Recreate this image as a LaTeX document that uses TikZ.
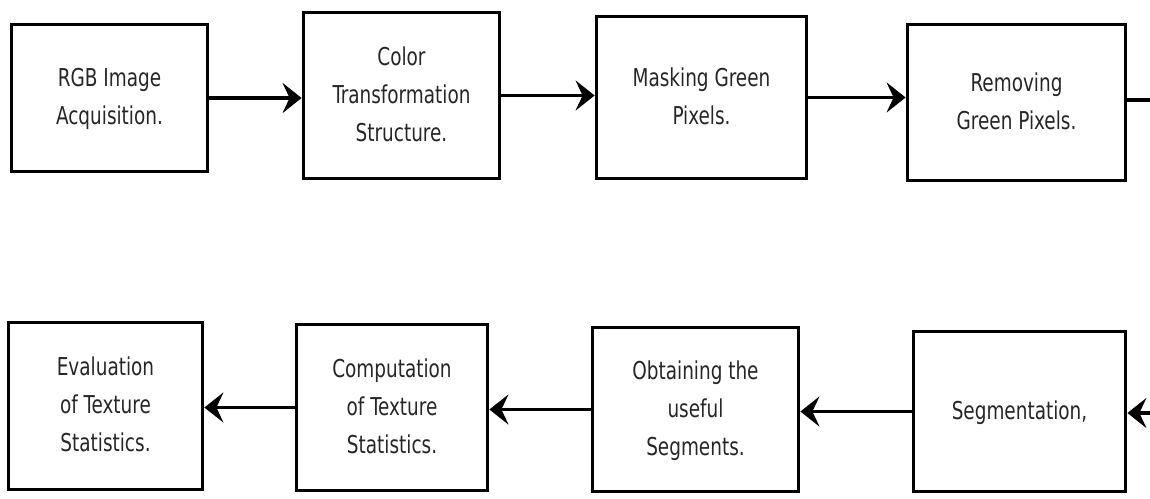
\documentclass[tikz,border=0pt]{standalone}
\usepackage{fontspec}
\usepackage{graphicx}
\setmainfont{DejaVu Sans Condensed}
\usetikzlibrary{arrows.meta}
\newcommand\vtxt[1]{\scalebox{1}[1.2]{\begin{tabular}{@{}c@{}}#1\end{tabular}}}
\begin{document}
\begin{tikzpicture}[x=1pt,y=-1pt,
  box/.style={draw=black,line width=3.8pt,rectangle,align=center,inner sep=0pt,
    font=\fontsize{20.5}{31.7}\selectfont,text=black!85},
  conn/.style={line width=3.8pt,-{Stealth[length=19pt,width=30pt,inset=7pt]}},
  plain/.style={line width=3.8pt}]
\useasboundingbox (0,0) rectangle (1150,498);
\node[box,minimum width=196pt,minimum height=147pt] (b1) at (109.5,98) {\vtxt{RGB Image\\Acquisition.}};
\node[box,minimum width=196pt,minimum height=166pt] (b2) at (401.5,95.5) {\vtxt{Color\\Transformation\\Structure.}};
\node[box,minimum width=210pt,minimum height=162pt] (b3) at (701.5,97.5) {\vtxt{Masking Green\\Pixels.}};
\node[box,minimum width=218pt,minimum height=156pt] (b4) at (1016.5,102.5) {\vtxt{Removing\\Green Pixels.}};
\node[box,minimum width=194pt,minimum height=167pt] (b5) at (105.5,406) {\vtxt{Evaluation\\of Texture\\Statistics.}};
\node[box,minimum width=191pt,minimum height=166pt] (b6) at (392,407.5) {\vtxt{Computation\\of Texture\\Statistics.}};
\node[box,minimum width=206pt,minimum height=164pt] (b7) at (695.5,409.5) {\vtxt{Obtaining the\\useful\\Segments.}};
\node[box,minimum width=212pt,minimum height=160pt] (b8) at (1019.5,411.5) {\vtxt{Segmentation,}};
\coordinate (outR) at (1151,100);
\coordinate (inR) at (1151,413);
\draw[conn] (b1.east) -- (b1.east -| b2.west);
\draw[conn] (b2.east) -- (b2.east -| b3.west);
\draw[conn] (b3.east) -- (b3.east -| b4.west);
\draw[plain] (b4.east |- outR) -- (outR);
\draw[conn] (inR) -- (inR -| b8.east);
\draw[conn] (b8.west) -- (b8.west -| b7.east);
\draw[conn] (b7.west) -- (b7.west -| b6.east);
\draw[conn] (b6.west) -- (b6.west -| b5.east);
\end{tikzpicture}
\end{document}
